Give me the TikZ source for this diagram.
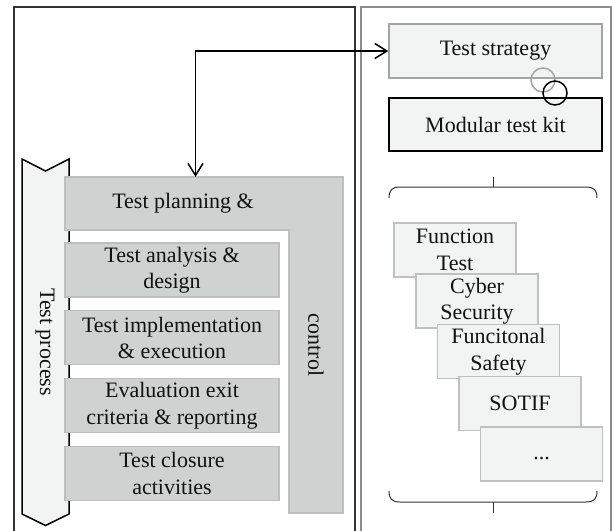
\documentclass[tikz,border=0pt]{standalone}
\usepackage{fontspec}
\setmainfont{Liberation Serif}
\usepackage{tikz}
\usetikzlibrary{arrows.meta,positioning}
\definecolor{Ink}{HTML}{111111}
\definecolor{Frame}{HTML}{333333}
\definecolor{FrameSoft}{HTML}{8C8C8C}
\definecolor{StepFill}{HTML}{D0D1D1}
\definecolor{StepLine}{HTML}{BDBEBE}
\definecolor{ModFill}{HTML}{F2F3F3}
\definecolor{ModLine}{HTML}{BFC0C0}

\begin{document}
\begin{tikzpicture}[x=1pt,y=-1pt,>={Straight Barb[length=12pt,width=15pt]}]
\tikzset{stepbox/.style={draw=StepLine,fill=StepFill,line width=1.3pt,minimum width=214pt,minimum height=54pt,inner sep=0pt,align=center,text=Ink,font=\fontsize{22}{26.5}\selectfont},
  modbox/.style={draw=ModLine,fill=ModFill,line width=1.5pt,minimum width=122pt,minimum height=54pt,inner sep=0pt,align=center,text=Ink,font=\fontsize{22}{26.5}\selectfont},
  label/.style={inner sep=0pt,text=Ink,font=\fontsize{22}{26.5}\selectfont},
  brace/.style={draw=Frame,line width=1pt},
  arrow/.style={<->,line width=1.5pt,black}}
\useasboundingbox (0,0) rectangle (612,530);
% panels
\draw[Frame,line width=1.2pt] (14,7) rectangle (355,545);
\draw[FrameSoft,line width=1.2pt] (361,7) rectangle (611,545);
% test process chevron
\draw[fill=ModFill,line width=1.5pt] (22,159) -- (45.5,171) -- (69,159) -- (69,514) -- (45.5,525.5) -- (22,514) -- cycle;
\node[label,rotate=-90] (proc) at (45,342) {Test process};
% planning & control
\draw[draw=StepLine,fill=StepFill,line width=1.3pt] (65,177) -- (343,177) -- (343,513) -- (289,513) -- (289,230) -- (65,230) -- cycle;
\node[label,minimum width=236pt,minimum height=53pt] (plan) at (183,203.5) {Test planning \&};
\node[label,rotate=-90] (ctrl) at (316,345) {control};
\node[stepbox] (ana) at (172,270) {Test analysis \&\\design};
\node[stepbox,below=12.5pt of ana] (impl) {Test implementation\\\& execution};
\node[stepbox,below=12.5pt of impl] (eval) {Evaluation exit\\criteria \& reporting};
\node[stepbox,below=12.5pt of eval] (clos) {Test closure\\activities};
% strategy and kit
\node[modbox,draw=ModLine!85!black,minimum width=213pt] (strat) at (495.5,51) {Test strategy};
\node[modbox,draw=black,minimum width=213pt,minimum height=53pt] (kit) at (495.5,124.5) {Modular test kit};
\node[circle,draw=ModLine!85!black,line width=1.5pt,minimum size=24pt,inner sep=0pt] (ring1) at (543,80) {};
\node[circle,draw=black,line width=1.5pt,minimum size=24pt,inner sep=0pt] (ring2) at (555,93) {};
\coordinate (bend) at (195.5,51);
\draw[arrow] (strat.west) -- (bend) -- (bend |- plan.north);
% braces
\draw[brace] (389,198) .. controls (389,190) and (392,187) .. (400,187) -- (586,187) .. controls (594,187) and (597,190) .. (597,198);
\draw[brace] (493,187) -- (493,177);
\draw[brace] (389,491) .. controls (389,499) and (392,502) .. (400,502) -- (586,502) .. controls (594,502) and (597,499) .. (597,491);
\draw[brace] (493,502) -- (493,513);
% modules
\node[modbox] (func) at (455,250) {Function\\Test};
\node[modbox] (cyber) at (477,301) {Cyber\\Security};
\node[modbox] (safe) at (498.5,351.5) {Funcitonal\\Safety};
\node[modbox] (sotif) at (520,403.5) {SOTIF};
\node[modbox] (more) at (541.5,454) {\strut...};
\end{tikzpicture}
\end{document}
